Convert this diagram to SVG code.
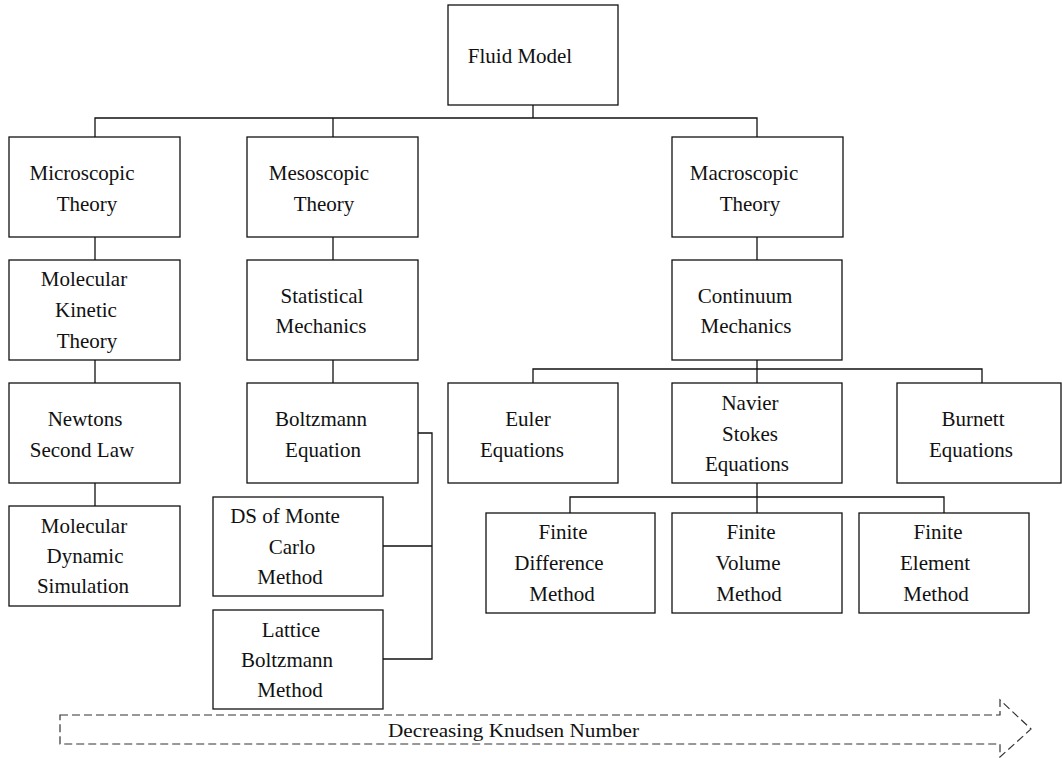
<svg xmlns="http://www.w3.org/2000/svg" width="1062" height="758" viewBox="0 0 1062 758">
<style>
  .box { fill: #fff; stroke: #111; stroke-width: 1.3; }
  .lbl { font-family: "Liberation Serif", "Times New Roman", serif; font-size: 21px; fill: #111; text-anchor: middle; }
  .con { fill: none; stroke: #111; stroke-width: 1.3; }
  .kn { fill: none; stroke: #333; stroke-width: 1.2; stroke-dasharray: 8 4; }
</style>
<rect width="1062" height="758" fill="#fff"/>
<g id="connectors">
  <path class="con" d="M533,105 V118 M95,137 V118 H757 V137 M333,118 V137"/>
  <path class="con" d="M95,237 V260 M95,360 V383 M95,483 V506"/>
  <path class="con" d="M333,237 V260 M333,360 V383"/>
  <path class="con" d="M418,433 H432 V659 H383 M383,546 H432"/>
  <path class="con" d="M757,237 V260 M757,360 V383 M533,383 V369 H982 V383"/>
  <path class="con" d="M757,483 V513 M570,513 V497 H944 V513"/>
</g>
<g id="fluid-model"><rect class="box" x="448" y="5" width="170" height="100"/><text class="lbl" x="520" y="63">Fluid Model</text></g>
<g id="microscopic"><rect class="box" x="9" y="137" width="171" height="100"/><text class="lbl" x="82" y="180">Microscopic</text><text class="lbl" x="87" y="211">Theory</text></g>
<g id="mesoscopic"><rect class="box" x="247" y="137" width="171" height="100"/><text class="lbl" x="319" y="180">Mesoscopic</text><text class="lbl" x="324" y="211">Theory</text></g>
<g id="macroscopic"><rect class="box" x="672" y="137" width="171" height="100"/><text class="lbl" x="744" y="180">Macroscopic</text><text class="lbl" x="750" y="211">Theory</text></g>
<g id="molecular-kinetic"><rect class="box" x="9" y="260" width="171" height="100"/><text class="lbl" x="84" y="286">Molecular</text><text class="lbl" x="86" y="317">Kinetic</text><text class="lbl" x="87" y="348">Theory</text></g>
<g id="statistical"><rect class="box" x="247" y="260" width="171" height="100"/><text class="lbl" x="322" y="303">Statistical</text><text class="lbl" x="321" y="333">Mechanics</text></g>
<g id="continuum"><rect class="box" x="672" y="260" width="170" height="100"/><text class="lbl" x="745" y="303">Continuum</text><text class="lbl" x="746" y="333">Mechanics</text></g>
<g id="newtons"><rect class="box" x="9" y="383" width="171" height="100"/><text class="lbl" x="85" y="426">Newtons</text><text class="lbl" x="82" y="457">Second Law</text></g>
<g id="boltzmann"><rect class="box" x="247" y="383" width="171" height="100"/><text class="lbl" x="321" y="426">Boltzmann</text><text class="lbl" x="323" y="457">Equation</text></g>
<g id="euler"><rect class="box" x="448" y="383" width="170" height="100"/><text class="lbl" x="528" y="426">Euler</text><text class="lbl" x="522" y="457">Equations</text></g>
<g id="navier"><rect class="box" x="672" y="383" width="170" height="100"/><text class="lbl" x="750" y="410">Navier</text><text class="lbl" x="750" y="441">Stokes</text><text class="lbl" x="747" y="471">Equations</text></g>
<g id="burnett"><rect class="box" x="897" y="383" width="164" height="100"/><text class="lbl" x="973" y="426">Burnett</text><text class="lbl" x="971" y="457">Equations</text></g>
<g id="molecular-dynamic"><rect class="box" x="9" y="506" width="171" height="100"/><text class="lbl" x="84" y="533">Molecular</text><text class="lbl" x="85" y="563">Dynamic</text><text class="lbl" x="83" y="593">Simulation</text></g>
<g id="ds-monte-carlo"><rect class="box" x="213" y="497" width="170" height="99"/><text class="lbl" x="285" y="523">DS of Monte</text><text class="lbl" x="292" y="554">Carlo</text><text class="lbl" x="290" y="584">Method</text></g>
<g id="lattice-boltzmann"><rect class="box" x="213" y="610" width="170" height="99"/><text class="lbl" x="291" y="637">Lattice</text><text class="lbl" x="287" y="667">Boltzmann</text><text class="lbl" x="290" y="697">Method</text></g>
<g id="finite-difference"><rect class="box" x="486" y="513" width="169" height="100"/><text class="lbl" x="563" y="539">Finite</text><text class="lbl" x="559" y="570">Difference</text><text class="lbl" x="562" y="601">Method</text></g>
<g id="finite-volume"><rect class="box" x="672" y="513" width="170" height="100"/><text class="lbl" x="751" y="539">Finite</text><text class="lbl" x="748" y="570">Volume</text><text class="lbl" x="749" y="601">Method</text></g>
<g id="finite-element"><rect class="box" x="859" y="513" width="170" height="100"/><text class="lbl" x="938" y="539">Finite</text><text class="lbl" x="935" y="570">Element</text><text class="lbl" x="936" y="601">Method</text></g>
<g id="knudsen-arrow">
  <path class="kn" d="M60,715 H1000 V700 L1031,729 L1000,757 V744 H60 Z"/>
  <text class="lbl" x="513.5" y="737" style="font-size:19px" textLength="251" lengthAdjust="spacingAndGlyphs">Decreasing Knudsen Number</text>
</g>
</svg>
